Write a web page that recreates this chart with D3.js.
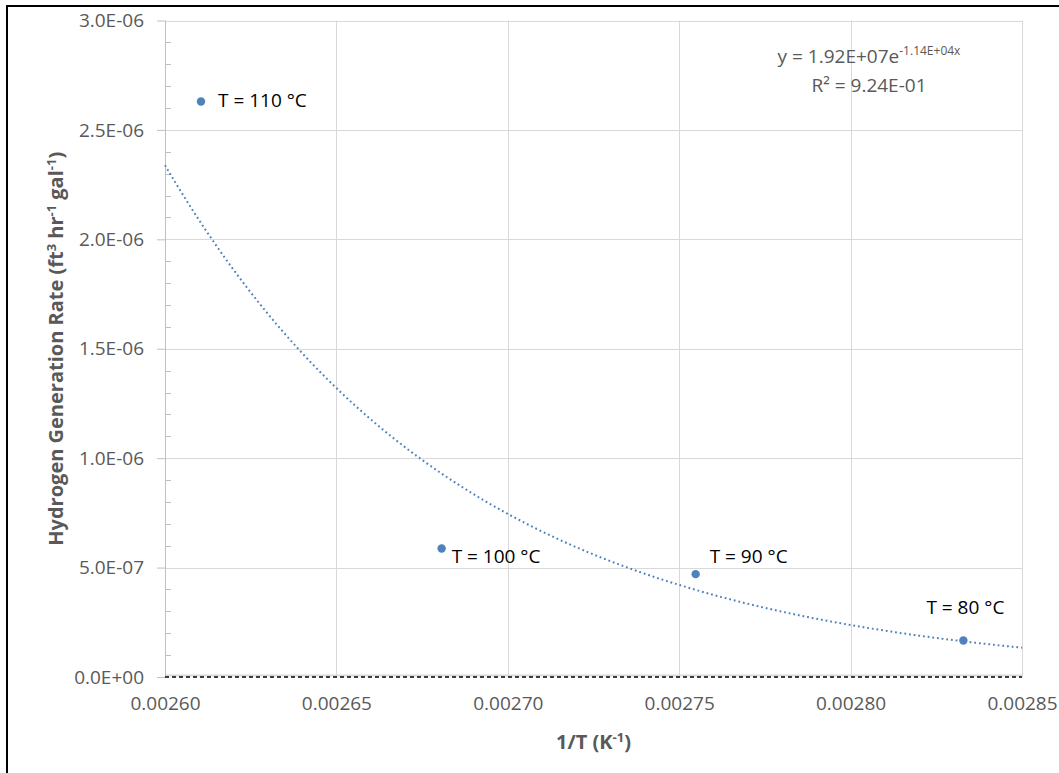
<!DOCTYPE html>
<html>
<head>
<meta charset="utf-8">
<script src="https://cdn.jsdelivr.net/npm/d3@7/dist/d3.min.js"></script>
<style>
  html, body { margin: 0; padding: 0; background: #fff; }
  svg { display: block; font-family: "Open Sans", "Noto Sans", sans-serif; }
</style>
</head>
<body>
<svg id="chart" width="1059" height="773"></svg>
<script>
// Measured hydrogen generation rate against inverse absolute temperature
const pointLabels = ["T = 110 °C", "T = 100 °C", "T = 90 °C", "T = 80 °C"];
const inverseT = [0.0026105, 0.0026807, 0.0027548, 0.0028329];   // 1/T (K^-1)
const genRate = [2.63e-6, 5.87e-7, 4.70e-7, 1.67e-7];            // ft3 hr-1 gal-1

// Exponential trendline y = A·e^(B·x) and its coefficient of determination
const trendCoef = [1.92e7, -11437];
const rSquared = [0.924];

// Axis ticks
const xTicks = [0.0026, 0.00265, 0.0027, 0.00275, 0.0028, 0.00285];
const yTicks = [0, 5e-7, 1e-6, 1.5e-6, 2e-6, 2.5e-6, 3e-6];
const yMinorStep = 1e-7;

const svg = d3.select("#chart");
const W = 1059, H = 773;
const plot = { left: 165, right: 1022, top: 20.5, bottom: 677 };

const x = d3.scaleLinear().domain([xTicks[0], xTicks[xTicks.length - 1]]).range([plot.left, plot.right]);
const y = d3.scaleLinear().domain([yTicks[0], yTicks[yTicks.length - 1]]).range([plot.bottom, plot.top]);

const gridColor = "#d9d9d9";
const textColor = "#595959";
const dotColor = "#4f81bd";

// Outer chart frame
svg.append("rect")
  .attr("x", 7).attr("y", 6)
  .attr("width", W + 20).attr("height", H + 20)
  .attr("fill", "none").attr("stroke", "#000").attr("stroke-width", 2);

// Horizontal gridlines
svg.append("g").selectAll("line").data(yTicks.slice(1)).join("line")
  .attr("x1", plot.left).attr("x2", plot.right)
  .attr("y1", d => Math.round(y(d)) + 0.5).attr("y2", d => Math.round(y(d)) + 0.5)
  .attr("stroke", gridColor).attr("stroke-width", 1);

// Vertical gridlines
svg.append("g").selectAll("line").data(xTicks.slice(1)).join("line")
  .attr("x1", d => Math.round(x(d)) + 0.5).attr("x2", d => Math.round(x(d)) + 0.5)
  .attr("y1", plot.top).attr("y2", plot.bottom)
  .attr("stroke", gridColor).attr("stroke-width", 1);

// Horizontal axis line
svg.append("line")
  .attr("x1", plot.left).attr("x2", plot.right)
  .attr("y1", plot.bottom - 1.5).attr("y2", plot.bottom - 1.5)
  .attr("stroke", gridColor).attr("stroke-width", 2);

// Vertical axis line
svg.append("line")
  .attr("x1", plot.left + 0.5).attr("x2", plot.left + 0.5)
  .attr("y1", plot.top).attr("y2", plot.bottom)
  .attr("stroke", "#bfbfbf").attr("stroke-width", 1);

// Minor ticks on the value axis (inside the plot)
const yMinor = d3.range(yTicks[0], yTicks[yTicks.length - 1] + yMinorStep / 2, yMinorStep)
  .filter(v => !yTicks.some(t => Math.abs(t - v) < yMinorStep / 10));
svg.append("g").selectAll("line").data(yMinor).join("line")
  .attr("x1", plot.left).attr("x2", plot.left + 6)
  .attr("y1", d => Math.round(y(d)) + 0.5).attr("y2", d => Math.round(y(d)) + 0.5)
  .attr("stroke", "#bfbfbf").attr("stroke-width", 1);

// Value axis with major ticks and labels
const yAxis = svg.append("g")
  .attr("transform", `translate(${plot.left},0)`)
  .call(d3.axisLeft(y).tickValues(yTicks).tickSize(8).tickPadding(13)
    .tickFormat(d => d3.format(".1e")(d).toUpperCase().replace(/E([+-])(\d)$/, "E$10$2")));
yAxis.select(".domain").remove();
yAxis.selectAll(".tick line").attr("stroke", "#bfbfbf");
yAxis.selectAll(".tick text")
  .attr("fill", textColor).attr("font-size", 19).attr("font-family", "Open Sans");

// Category axis labels
const xAxis = svg.append("g")
  .attr("transform", `translate(0,${plot.bottom})`)
  .call(d3.axisBottom(x).tickValues(xTicks).tickSize(0).tickPadding(19.5)
    .tickFormat(d => d.toFixed(5)));
xAxis.select(".domain").remove();
xAxis.selectAll(".tick text")
  .attr("fill", textColor).attr("font-size", 19).attr("font-family", "Open Sans");

// Zero reference line
svg.append("line")
  .attr("x1", x(xTicks[0])).attr("x2", x(xTicks[xTicks.length - 1]))
  .attr("y1", y(0)).attr("y2", y(0))
  .attr("stroke", "#000").attr("stroke-width", 1.5)
  .attr("stroke-dasharray", "4,3");

// Exponential trendline
const trendX = d3.range(0, 201).map(i => x.domain()[0] + (x.domain()[1] - x.domain()[0]) * i / 200);
const trendLine = d3.line()
  .x(d => x(d))
  .y(d => y(trendCoef[0] * Math.exp(trendCoef[1] * d)));
svg.append("path")
  .datum(trendX)
  .attr("d", trendLine)
  .attr("fill", "none")
  .attr("stroke", dotColor)
  .attr("stroke-width", 2)
  .attr("stroke-dasharray", "1.8,2.9");

// Data points
svg.append("g").selectAll("circle").data(inverseT).join("circle")
  .attr("cx", d => x(d))
  .attr("cy", (d, i) => y(genRate[i]))
  .attr("r", 4.2)
  .attr("fill", dotColor);

// Point labels
const labelOffset = [
  { dx: 17, dy: 6, anchor: "start" },
  { dx: 10, dy: 14, anchor: "start" },
  { dx: 14, dy: -11, anchor: "start" },
  { dx: 2, dy: -26, anchor: "middle" }
];
svg.append("g").selectAll("text").data(pointLabels).join("text")
  .attr("x", (d, i) => x(inverseT[i]) + labelOffset[i].dx)
  .attr("y", (d, i) => y(genRate[i]) + labelOffset[i].dy)
  .attr("text-anchor", (d, i) => labelOffset[i].anchor)
  .attr("font-size", 19)
  .attr("fill", "#000")
  .text(d => d);

// Trendline equation
const sci = v => {
  const [m, e] = v.toExponential(2).split("e");
  const sign = e[0] === "-" ? "-" : "+";
  const digits = e.replace(/[+-]/, "").padStart(2, "0");
  return `${m}E${sign}${digits}`;
};
const eq = svg.append("text")
  .attr("x", 869).attr("y", 63)
  .attr("text-anchor", "middle")
  .attr("font-size", 19)
  .attr("fill", textColor);
eq.append("tspan").text(`y = ${sci(trendCoef[0])}e`);
eq.append("tspan").attr("dy", -8).attr("font-size", 12)
  .text(`${sci(Number(trendCoef[1].toPrecision(3)))}x`);

svg.append("text")
  .attr("x", 869).attr("y", 92)
  .attr("text-anchor", "middle")
  .attr("font-size", 19)
  .attr("fill", textColor)
  .text(`R² = ${sci(rSquared[0])}`);

// Value axis title, centred on the plot area
const yTitle = svg.append("text")
  .attr("transform", `translate(63,${(plot.top + plot.bottom) / 2}) rotate(-90)`)
  .attr("text-anchor", "middle")
  .attr("font-size", 20)
  .attr("font-weight", "bold")
  .attr("fill", textColor);
yTitle.append("tspan").text("Hydrogen Generation Rate (ft");
yTitle.append("tspan").attr("dy", -7).attr("font-size", 13).text("3");
yTitle.append("tspan").attr("dy", 7).text(" hr");
yTitle.append("tspan").attr("dy", -7).attr("font-size", 13).text("-1");
yTitle.append("tspan").attr("dy", 7).text(" gal");
yTitle.append("tspan").attr("dy", -7).attr("font-size", 13).text("-1");
yTitle.append("tspan").attr("dy", 7).text(")");

// Category axis title
const xTitle = svg.append("text")
  .attr("x", (plot.left + plot.right) / 2).attr("y", 749)
  .attr("text-anchor", "middle")
  .attr("font-size", 20)
  .attr("font-weight", "bold")
  .attr("fill", textColor);
xTitle.append("tspan").text("1/T (K");
xTitle.append("tspan").attr("dy", -7).attr("font-size", 13).text("-1");
xTitle.append("tspan").attr("dy", 7).text(")");
</script>
</body>
</html>
